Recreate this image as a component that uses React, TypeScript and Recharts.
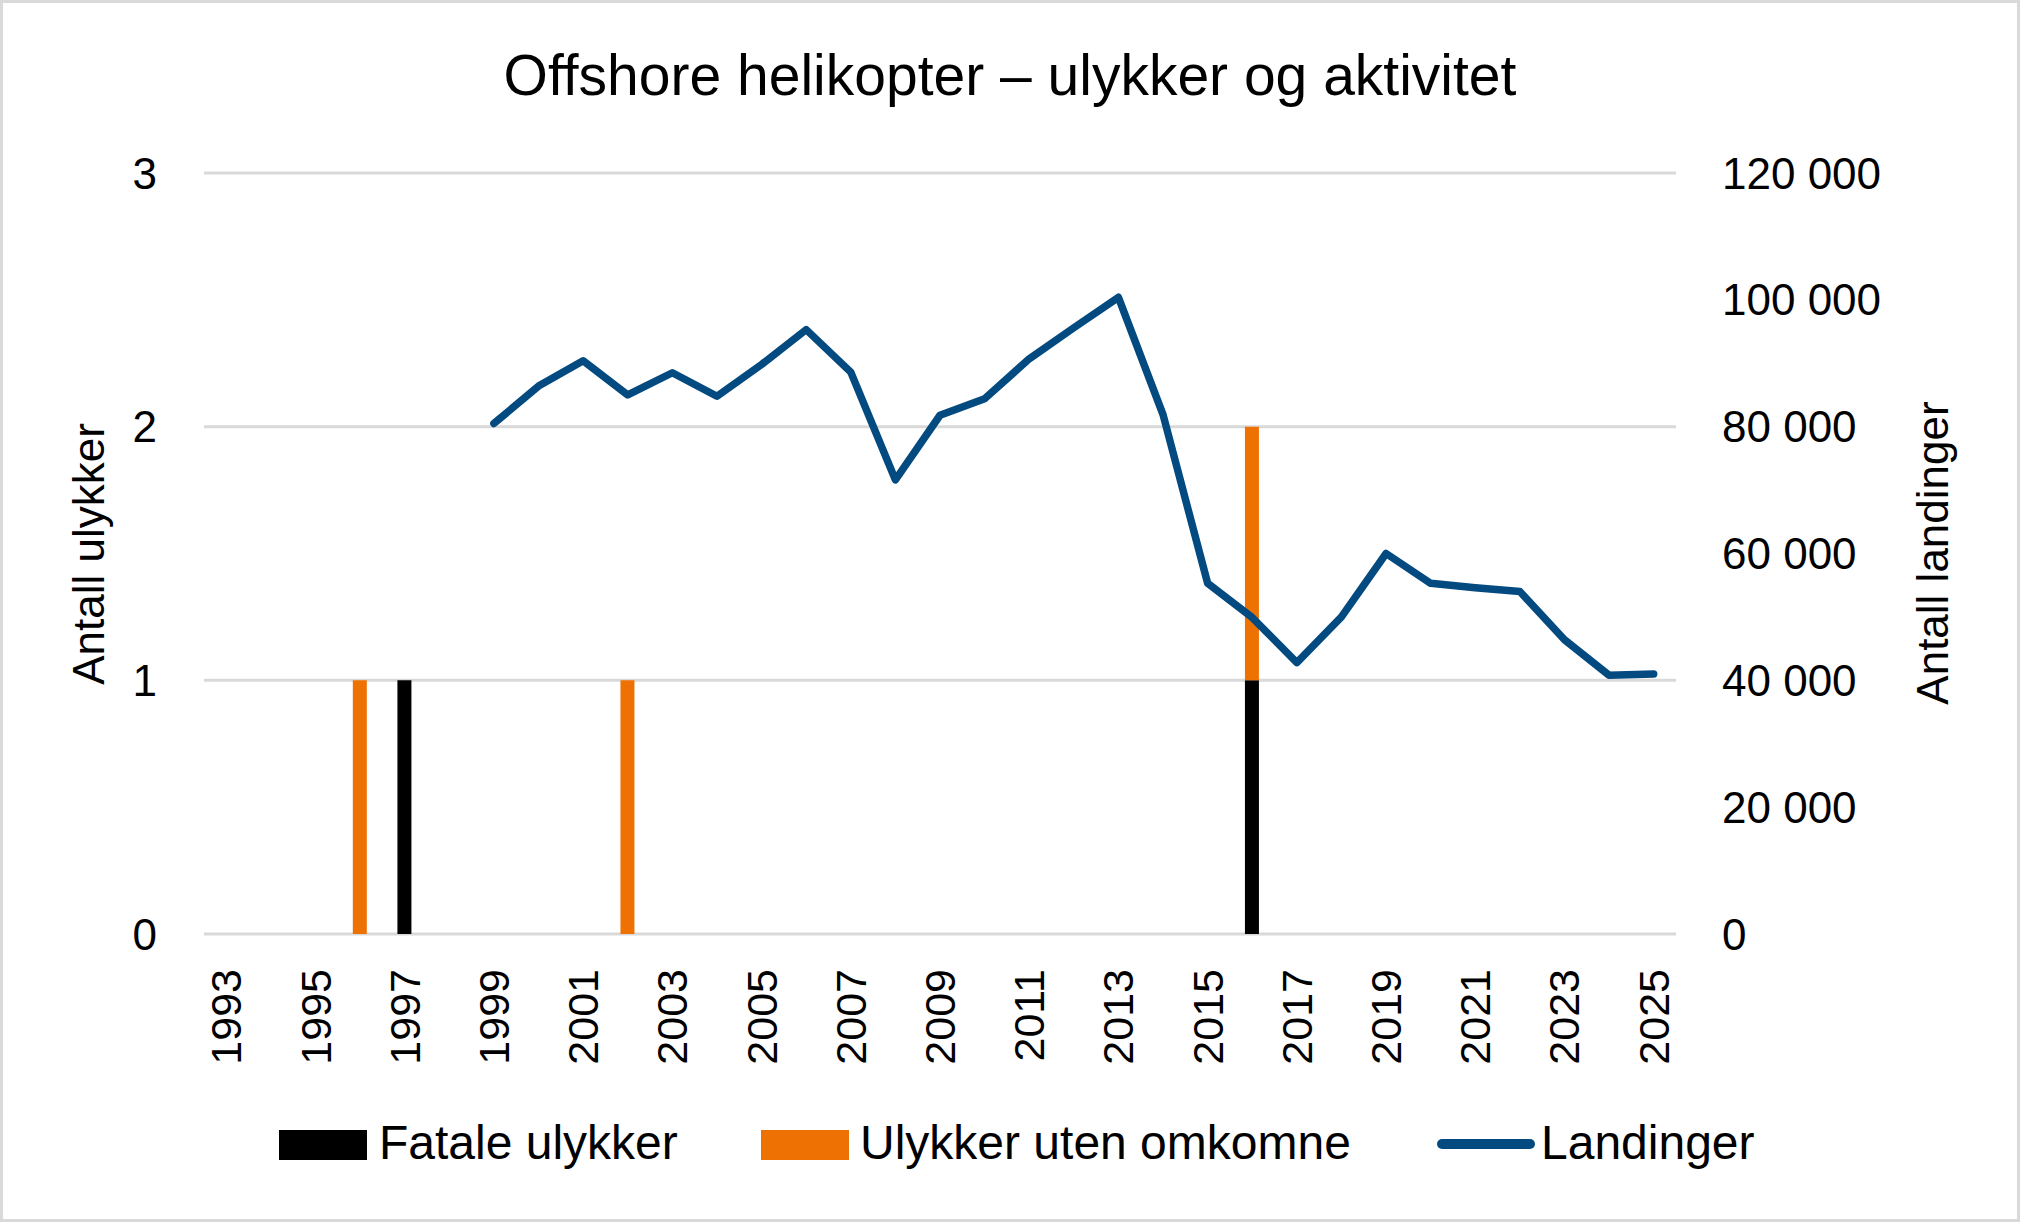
import React from 'react';
import { ComposedChart, Bar, Line, XAxis, YAxis, CartesianGrid, Legend } from 'recharts';

const years = [
  '1993', '1994', '1995', '1996', '1997', '1998', '1999', '2000', '2001', '2002', '2003',
  '2004', '2005', '2006', '2007', '2008', '2009', '2010', '2011', '2012', '2013', '2014',
  '2015', '2016', '2017', '2018', '2019', '2020', '2021', '2022', '2023', '2024', '2025',
];

const fatalAccidents = [
  0, 0, 0, 0, 1, 0, 0, 0, 0, 0, 0,
  0, 0, 0, 0, 0, 0, 0, 0, 0, 0, 0,
  0, 1, 0, 0, 0, 0, 0, 0, 0, 0, 0,
];

const nonFatalAccidents = [
  0, 0, 0, 1, 0, 0, 0, 0, 0, 1, 0,
  0, 0, 0, 0, 0, 0, 0, 0, 0, 0, 0,
  0, 1, 0, 0, 0, 0, 0, 0, 0, 0, 0,
];

const landings: (number | null)[] = [
  null, null, null, null, null, null, 80500, 86400, 90400, 85000, 88500,
  84800, 89800, 95300, 88600, 71600, 81800, 84400, 90700, 95600, 100400, 81900,
  55300, 49900, 42800, 50000, 60000, 55300, 54600, 54000, 46400, 40800, 41000,
];

const leftTicks = [0, 1, 2, 3];
const rightTicks = [0, 20000, 40000, 60000, 80000, 100000, 120000];

const seriesNames = ['Fatale ulykker', 'Ulykker uten omkomne', 'Landinger'];
const titleText = 'Offshore helikopter \u2013 ulykker og aktivitet';
const leftAxisTitle = 'Antall ulykker';
const rightAxisTitle = 'Antall landinger';

const BLACK = '#000000';
const ORANGE = '#EE7203';
const BLUE = '#034A80';
const GRID = '#D9D9D9';
const FONT = '"Liberation Sans", Arial, Helvetica, sans-serif';

const data = years.map((y, i) => ({
  year: y,
  fatal: fatalAccidents[i],
  nonFatal: nonFatalAccidents[i],
  landings: landings[i],
}));

const fmtThousands = (v: number) =>
  String(v).replace(/\B(?=(\d{3})+(?!\d))/g, ' ');

const XTick = (props: any) => {
  const { x, y, payload } = props;
  const ty = y + 35;
  return (
    <text
      x={x}
      y={ty}
      transform={`rotate(-90 ${x} ${ty})`}
      textAnchor="end"
      dominantBaseline="central"
      fontSize={43}
      fill="#000"
      fontFamily={FONT}
    >
      {payload.value}
    </text>
  );
};

const renderLegend = () => (
  <svg width={2020} height={70} style={{ display: 'block' }}>
    <rect x={279} y={20} width={88} height={30} fill={BLACK} />
    <text x={379} y={49} fontSize={48} fontFamily={FONT} fill="#000">
      {seriesNames[0]}
    </text>
    <rect x={761} y={20} width={88} height={30} fill={ORANGE} />
    <text x={860} y={49} fontSize={48} fontFamily={FONT} fill="#000">
      {seriesNames[1]}
    </text>
    <line x1={1442} x2={1530} y1={34} y2={34} stroke={BLUE} strokeWidth={10} strokeLinecap="round" />
    <text x={1541} y={49} fontSize={48} fontFamily={FONT} fill="#000">
      {seriesNames[2]}
    </text>
  </svg>
);

export default function App() {
  return (
    <div style={{ position: 'absolute', left: 0, top: 0, width: 2020, height: 1222, background: '#fff' }}>
      <ComposedChart
        width={2020}
        height={1222}
        data={data}
        margin={{ top: 173, right: 144, bottom: 148, left: 0 }}
        barGap={0}
      >
        <CartesianGrid
          yAxisId="left"
          vertical={false}
          stroke={GRID}
          strokeWidth={3}
        />
        <XAxis
          dataKey="year"
          interval={1}
          height={140}
          tickSize={0}
          tickMargin={0}
          axisLine={false}
          tickLine={false}
          tick={<XTick />}
        />
        <YAxis
          yAxisId="left"
          orientation="left"
          width={204}
          domain={[0, 3]}
          ticks={leftTicks}
          allowDecimals={false}
          axisLine={false}
          tickLine={false}
          tickSize={0}
          tickMargin={47}
          tick={{ fontSize: 44, fill: '#000', fontFamily: FONT }}
        />
        <YAxis
          yAxisId="right"
          orientation="right"
          width={200}
          domain={[0, 120000]}
          ticks={rightTicks}
          axisLine={false}
          tickLine={false}
          tickSize={0}
          tickMargin={46}
          tickFormatter={fmtThousands}
          tick={{ fontSize: 44, fill: '#000', fontFamily: FONT, textAnchor: 'start' }}
        />
        <Legend verticalAlign="middle" align="center" layout="horizontal" content={renderLegend}
          wrapperStyle={{ left: 0, top: 1110, width: 2020, height: 70 }} />
        <Bar yAxisId="left" dataKey="fatal" name={seriesNames[0]} stackId="a" fill={BLACK} barSize={14} isAnimationActive={false} />
        <Bar yAxisId="left" dataKey="nonFatal" name={seriesNames[1]} stackId="a" fill={ORANGE} barSize={14} isAnimationActive={false} />
        <Line
          yAxisId="right"
          type="linear"
          dataKey="landings"
          name={seriesNames[2]}
          stroke={BLUE}
          strokeWidth={7.5}
          strokeLinecap="round"
          strokeLinejoin="round"
          dot={false}
          activeDot={false}
          connectNulls={false}
          isAnimationActive={false}
        />
      </ComposedChart>
      <svg
        width={2020}
        height={1222}
        style={{ position: 'absolute', left: 0, top: 0, pointerEvents: 'none' }}
      >
        <text x={1010} y={95} textAnchor="middle" fontSize={57} fontFamily={FONT} fill="#000">
          {titleText}
        </text>
        <text
          x={88}
          y={554}
          transform="rotate(-90 88 554)"
          textAnchor="middle"
          dominantBaseline="central"
          fontSize={44}
          fontFamily={FONT}
          fill="#000"
        >
          {leftAxisTitle}
        </text>
        <text
          x={1932}
          y={553}
          transform="rotate(-90 1932 553)"
          textAnchor="middle"
          dominantBaseline="central"
          fontSize={44}
          fontFamily={FONT}
          fill="#000"
        >
          {rightAxisTitle}
        </text>
        <rect x={1.5} y={1.5} width={2017} height={1219} fill="none" stroke={GRID} strokeWidth={3} />
      </svg>
    </div>
  );
}
